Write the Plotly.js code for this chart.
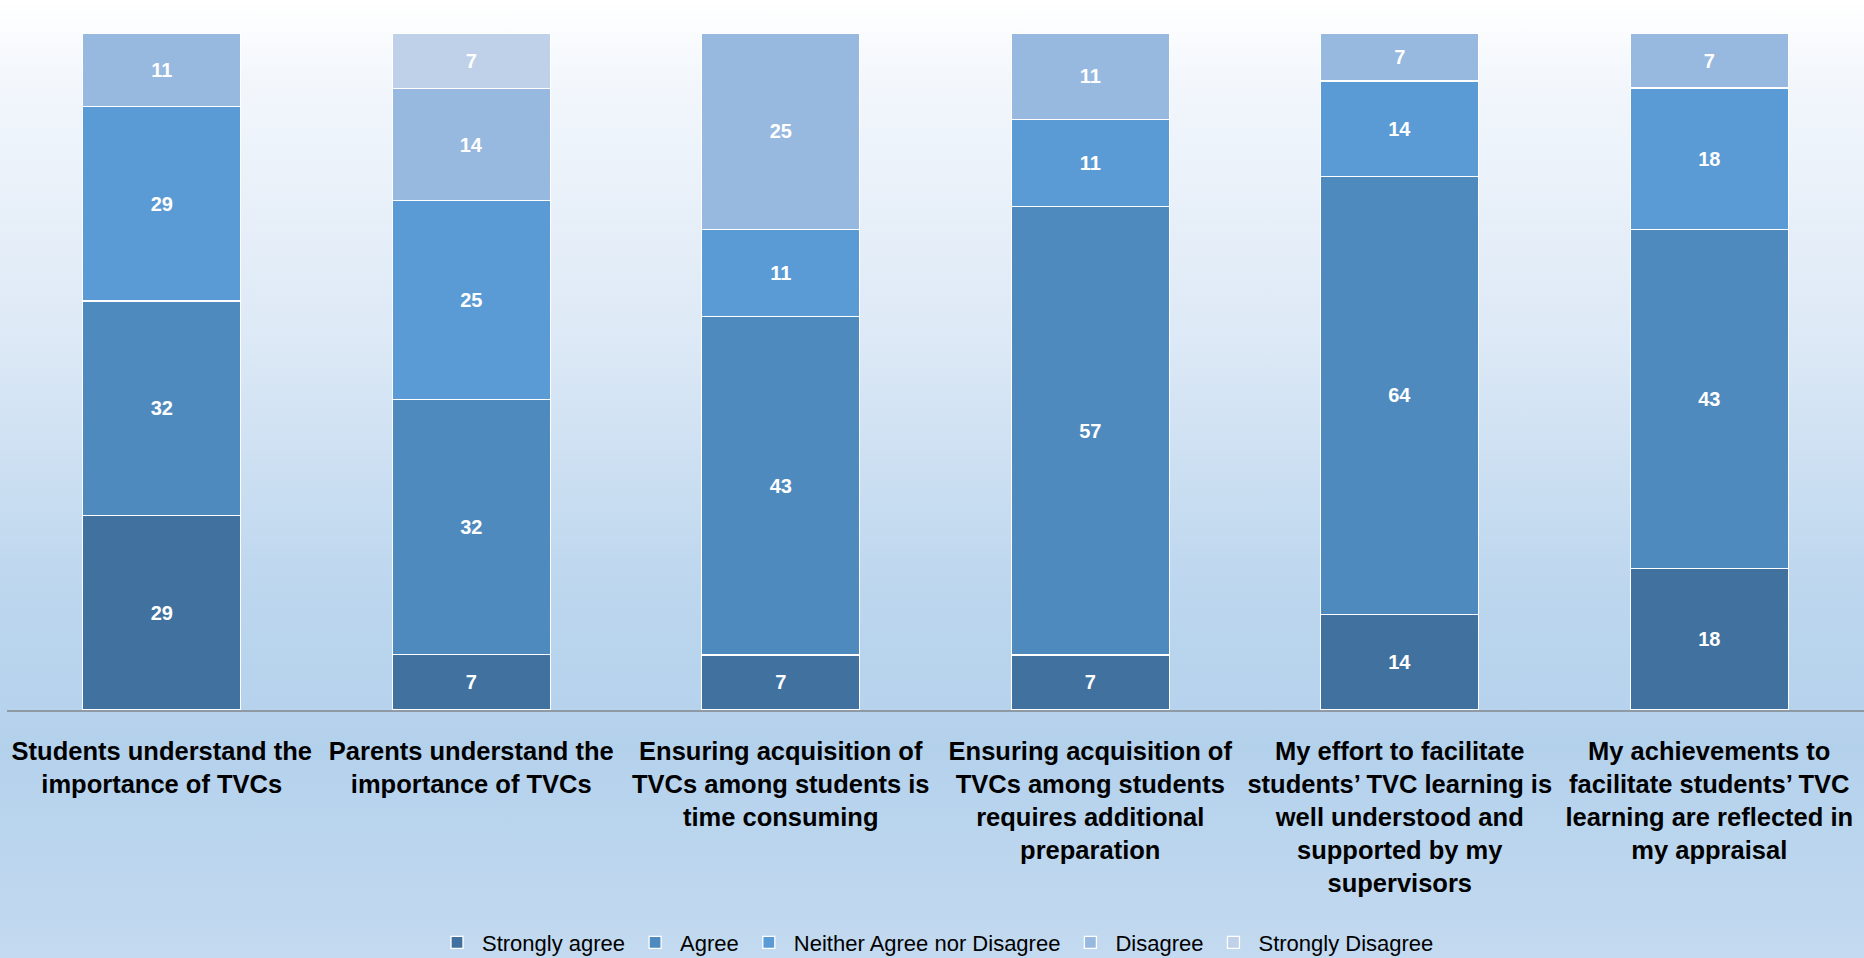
<!DOCTYPE html>
<html>
<head>
<meta charset="utf-8">
<script src="https://cdn.plot.ly/plotly-3.0.1.min.js"></script>
<style>
  html, body { margin: 0; padding: 0; }
  #chart {
    width: 1864px; height: 958px;
    background: linear-gradient(to bottom, #ffffff 0%, #f3f7fc 8%, #dde9f6 35%, #bcd6ee 62%, #b4d1ec 78%, #c3daf0 100%);
  }
</style>
</head>
<body>
<div id="chart"></div>
<script>
const categories = [
  "Students understand the<br>importance of TVCs",
  "Parents understand the<br>importance of TVCs",
  "Ensuring acquisition of<br>TVCs among students is<br>time consuming",
  "Ensuring acquisition of<br>TVCs among students<br>requires additional<br>preparation",
  "My effort to facilitate<br>students\u2019 TVC learning is<br>well understood and<br>supported by my<br>supervisors",
  "My achievements to<br>facilitate students\u2019 TVC<br>learning are reflected in<br>my appraisal"
];
const seriesNames = ["Strongly agree", "Agree", "Neither Agree nor Disagree", "Disagree", "Strongly Disagree"];
const stronglyAgree = [29, 7, 7, 7, 14, 18];
const agree         = [32, 32, 43, 57, 64, 43];
const neither       = [29, 25, 11, 11, 14, 18];
const disagree      = [11, 14, 25, 11, 7, 7];
const stronglyDis   = [null, 7, null, null, null, null];
const colors = ["#41729F", "#4F8ABE", "#5B9BD5", "#97B8DF", "#BED1E9"];

const seriesValues = [stronglyAgree, agree, neither, disagree, stronglyDis];

const traces = seriesValues.map((vals, i) => ({
  type: "bar",
  name: seriesNames[i],
  x: categories,
  y: vals,
  text: vals.map(v => v == null ? "" : String(v)),
  texttemplate: "%{text}",
  textposition: "inside",
  insidetextanchor: "middle",
  textangle: 0,
  constraintext: "none",
  insidetextfont: { family: "Liberation Sans, Arial, sans-serif", size: 20, color: "#ffffff", weight: "bold" },
  marker: { color: colors[i], line: { color: "#ffffff", width: 1.3 } },
  hoverinfo: "skip"
}));

const layout = {
  width: 1864, height: 958,
  margin: { l: 7, r: 0, t: 33, b: 248, autoexpand: false },
  paper_bgcolor: "rgba(0,0,0,0)",
  plot_bgcolor: "rgba(0,0,0,0)",
  barmode: "stack",
  barnorm: "percent",
  bargap: 0.49,
  showlegend: true,
  legend: {
    orientation: "h",
    x: 0.5, xanchor: "center",
    yref: "container",
    y: 0.016, yanchor: "middle",
    itemwidth: 40,
    traceorder: "normal",
    font: { family: "Liberation Sans, Arial, sans-serif", size: 22, color: "#000000" },
    bgcolor: "rgba(0,0,0,0)",
    itemclick: false
  },
  xaxis: {
    type: "category",
    automargin: false,
    showline: true, linecolor: "#8f9aa5", linewidth: 2,
    ticks: "", showgrid: false, zeroline: false,
    ticklabelstandoff: 17,
    tickangle: 0,
    tickfont: { family: "Liberation Sans, Arial, sans-serif", size: 25.5, color: "#000000", weight: "bold" },
    fixedrange: true
  },
  yaxis: {
    range: [0, 100],
    automargin: false,
    showticklabels: false, showgrid: false, zeroline: false, showline: false, ticks: "",
    fixedrange: true
  },
  font: { family: "Liberation Sans, Arial, sans-serif" }
};

Plotly.newPlot("chart", traces, layout, { displayModeBar: false, staticPlot: true });
</script>
</body>
</html>
